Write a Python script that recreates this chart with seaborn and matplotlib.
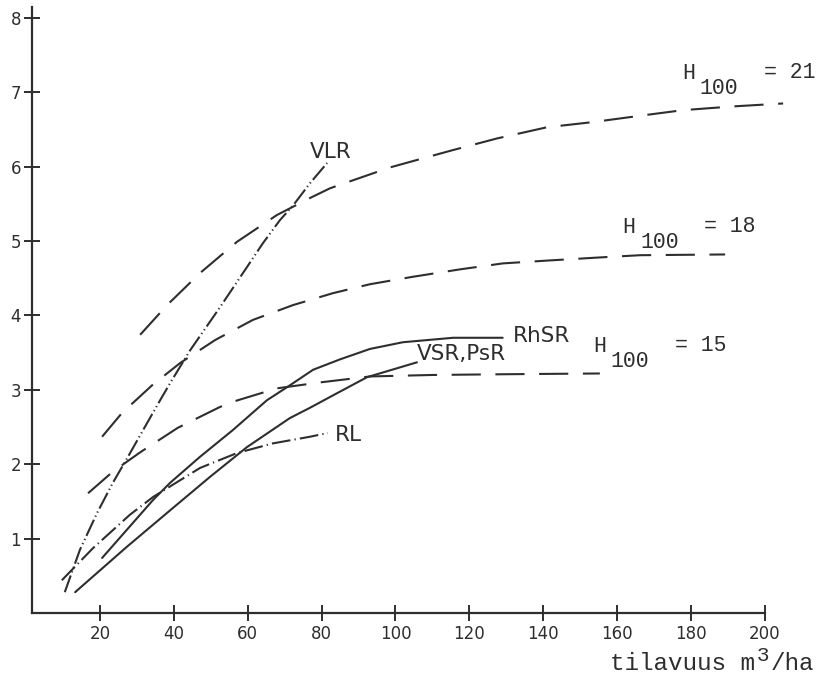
import numpy as np
import pandas as pd
import seaborn as sns
import matplotlib.pyplot as plt

# Valores (tilavuus m3/ha -> eixo y)
h21_x = [30.9, 38.2, 47.1, 57.1, 67.9, 76.9, 82.3, 98.5, 105.8, 115.3, 127.5, 141.0, 153.5, 167.0, 177.8, 191.3, 204.9]
h21_y = [3.74, 4.14, 4.57, 4.99, 5.35, 5.58, 5.71, 5.99, 6.09, 6.22, 6.38, 6.53, 6.60, 6.69, 6.76, 6.81, 6.85]

h18_x = [20.6, 26.0, 34.1, 41.7, 51.2, 61.4, 72.3, 83.1, 93.1, 104.7, 117.5, 129.1, 141.8, 155.3, 166.2, 189.2]
h18_y = [2.37, 2.69, 3.06, 3.36, 3.67, 3.94, 4.14, 4.30, 4.42, 4.52, 4.62, 4.70, 4.74, 4.78, 4.81, 4.82]

h15_x = [16.8, 23.5, 30.9, 41.1, 52.5, 56.0, 67.9, 79.6, 93.1, 110.0, 130.0, 155.3]
h15_y = [1.61, 1.90, 2.16, 2.49, 2.77, 2.84, 3.02, 3.10, 3.18, 3.20, 3.21, 3.22]

vlr_x = [10.5, 14.6, 19.2, 23.5, 27.6, 31.7, 36.3, 39.0, 44.4, 52.5, 59.8, 64.1, 68.7, 72.3, 76.9, 81.5]
vlr_y = [0.28, 0.85, 1.34, 1.75, 2.10, 2.46, 2.86, 3.09, 3.53, 4.11, 4.65, 4.97, 5.28, 5.48, 5.78, 6.05]

rl_x = [9.7, 18.1, 28.1, 34.4, 40.9, 47.1, 57.1, 66.8, 76.9, 81.7]
rl_y = [0.44, 0.87, 1.32, 1.56, 1.76, 1.95, 2.15, 2.28, 2.37, 2.42]

rhsr_x = [20.6, 34.4, 39.0, 47.1, 56.0, 65.2, 71.4, 77.7, 85.0, 93.1, 102.0, 115.6, 129.0]
rhsr_y = [0.74, 1.52, 1.75, 2.10, 2.46, 2.86, 3.06, 3.27, 3.41, 3.55, 3.64, 3.70, 3.70]

vsr_x = [13.3, 27.3, 39.0, 49.8, 59.8, 71.4, 76.9, 84.0, 92.3, 105.8]
vsr_y = [0.28, 0.89, 1.38, 1.83, 2.23, 2.62, 2.76, 2.95, 3.17, 3.37]

x_ticks = [20, 40, 60, 80, 100, 120, 140, 160, 180, 200]
y_ticks = [1, 2, 3, 4, 5, 6, 7, 8]

cor = '#2e2e2e'

sns.set_theme(style='white')
plt.rcParams['font.family'] = ['DejaVu Sans']

fig = plt.figure(figsize=(8.23, 6.74), dpi=100)
ax = fig.add_axes([0.0383, 0.0905, 0.9586, 0.905])

curvas = [
    (h21_x, h21_y, (0, (14, 7))),
    (h18_x, h18_y, (0, (14, 7))),
    (h15_x, h15_y, (0, (14, 7))),
    (vlr_x, vlr_y, (0, (8.5, 1.6, 0.6, 1.6, 0.6, 1.6))),
    (rl_x, rl_y, (0, (9, 2, 0.6, 2))),
    (rhsr_x, rhsr_y, '-'),
    (vsr_x, vsr_y, '-'),
]
for xs, ys, ls in curvas:
    df = pd.DataFrame({'x': xs, 'y': ys})
    sns.lineplot(data=df, x='x', y='y', sort=False, estimator=None, ax=ax,
                 color=cor, linewidth=1.5, linestyle=ls)

ax.set_xlim(1.5, 215)
ax.set_ylim(0, 8.2)
ax.set_xticks(x_ticks)
ax.set_yticks(y_ticks)
ax.set_xlabel('')
ax.set_ylabel('')

for s in ['top', 'right']:
    ax.spines[s].set_visible(False)
for s in ['left', 'bottom']:
    ax.spines[s].set_color(cor)
    ax.spines[s].set_linewidth(1.6)
ax.spines['bottom'].set_bounds(1.5, 200)
ax.spines['left'].set_bounds(0, 8.15)

ax.tick_params(axis='both', which='major', bottom=True, left=True,
               direction='inout', length=11, width=1.4, color=cor,
               labelcolor=cor, labelsize=12)
ax.tick_params(axis='x', pad=3)
ax.tick_params(axis='y', pad=2)

# rótulos das curvas
rotulo = dict(fontsize=15.5, color=cor, ha='left', va='baseline')
ax.text(76.9, 6.12, 'VLR', **rotulo)
ax.text(131.8, 3.64, 'RhSR', **rotulo)
ax.text(105.8, 3.40, 'VSR,PsR', **rotulo)
ax.text(83.6, 2.31, 'RL', **rotulo)

# rótulos H100 (máquina de escrever)
mono = dict(family='Liberation Mono', color=cor, va='baseline', ha='left')
for hx, hy, nome in [(177.5, 7.18, '21'), (161.3, 5.11, '18'), (153.4, 3.51, '15')]:
    ax.text(hx, hy, 'H', fontsize=15.5, **mono)
    ax.annotate('100', (hx, hy), xytext=(18, -15), textcoords='offset pixels',
                fontsize=15.5, **mono)
    ax.annotate('= ' + nome, (hx, hy), xytext=(82, 1), textcoords='offset pixels',
                fontsize=15.5, **mono)

# rótulo do eixo x
fig.text(610 / 823, 4 / 674, 'tilavuus m', fontsize=17.5, **mono)
fig.text(757 / 823, 13 / 674, '3', fontsize=15, **mono)
fig.text(771 / 823, 4 / 674, '/ha', fontsize=17.5, **mono)

fig.savefig('out.png', dpi=100, facecolor='white')
